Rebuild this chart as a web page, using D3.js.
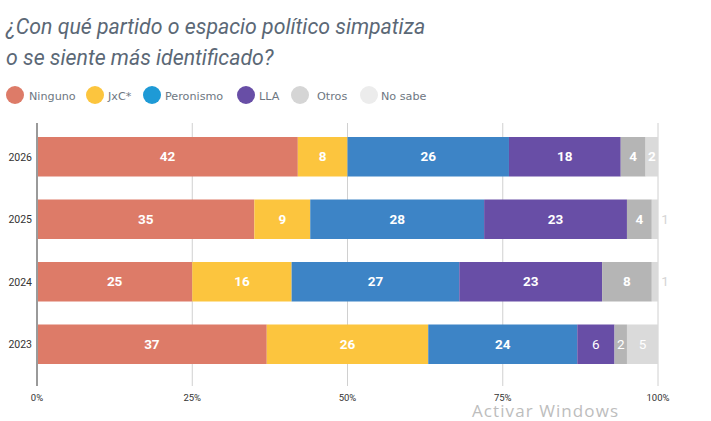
<!DOCTYPE html>
<html><head><meta charset="utf-8">
<script src="https://cdn.jsdelivr.net/npm/d3@7/dist/d3.min.js"></script>
<style>body{margin:0;background:#fff;}svg{display:block;}</style>
</head><body>
<svg id="c" width="711" height="421"></svg>
<script>
const years = ["2026","2025","2024","2023"];
const seriesNames = ["Ninguno","JxC*","Peronismo","LLA","Otros","No sabe"];
const ninguno   = [42,35,25,37];
const jxc       = [8,9,16,26];
const peronismo = [26,28,27,24];
const lla       = [18,23,23,6];
const otros     = [4,4,8,2];
const noSabe    = [2,1,1,5];
const tickLabels = ["0%","25%","50%","75%","100%"];
const colors = ["#DD7B68","#FCC53E","#3D84C6","#684EA6","#B5B5B5","#DADADA"];
const legendColors = ["#DD7B68","#FCC53E","#1E9AD6","#684EA6","#D5D5D5","#ECECEC"];

const seriesVals = [ninguno,jxc,peronismo,lla,otros,noSabe];
const rows = years.map((y,i)=>{const o={year:y};seriesNames.forEach((s,j)=>o[s]=seriesVals[j][i]);return o;});
const stack = d3.stack().keys(seriesNames)(rows);

const svg = d3.select("#c");
const x = d3.scaleLinear().domain([0,100]).range([37,658]);
const y = d3.scaleBand().domain(years).range([126,375]).paddingInner(0.368).paddingOuter(0.176);

// title
const t = svg.append("text").attr("font-family","Roboto").attr("font-style","italic").attr("font-size",21.3).attr("fill","#5B6876");
t.append("tspan").attr("x",6).attr("y",34).text("¿Con qué partido o espacio político simpatiza");
t.append("tspan").attr("x",6).attr("y",65).text("o se siente más identificado?");

// legend
const legX = [15,95,152,246,300,369];
const legTX = [29,108,165,259,317,381];
seriesNames.forEach((s,i)=>{
  svg.append("circle").attr("cx",legX[i]).attr("cy",95).attr("r",9).attr("fill",legendColors[i]);
  svg.append("text").attr("x",legTX[i]).attr("y",99.5).attr("font-family","DejaVu Sans").attr("font-size",11.2).attr("fill","#6E7782").text(s);
});

// grid
const gTop=123, gBot=386;
svg.append("g").selectAll("line").data([25,50,75,100]).join("line")
  .attr("x1",d=>x(d)).attr("x2",d=>x(d)).attr("y1",gTop).attr("y2",gBot)
  .attr("stroke","#D0D0D0").attr("stroke-width",1);

// bars
stack.forEach((layer,j)=>{
  svg.append("g").selectAll("rect").data(layer).join("rect")
    .attr("x",d=>x(d[0])).attr("width",d=>x(d[1])-x(d[0]))
    .attr("y",d=>y(d.data.year)).attr("height",y.bandwidth())
    .attr("fill",colors[j]);
});

// labels
stack.forEach((layer,j)=>{
  layer.forEach(d=>{
    const v = d[1]-d[0];
    const w = x(d[1])-x(d[0]);
    const cy = y(d.data.year)+y.bandwidth()/2+4.5;
    if(w>=10){
      svg.append("text").attr("x",(x(d[0])+x(d[1]))/2).attr("y",cy)
        .attr("text-anchor","middle").attr("font-family","Roboto")
        .attr("font-weight", d.data.year==="2023" && v<10 ? 400 : 700)
        .attr("font-size",13.5).attr("fill","#fff").text(v);
    } else {
      svg.append("text").attr("x",x(d[1])+7).attr("y",cy)
        .attr("text-anchor","middle").attr("font-family","Roboto")
        .attr("font-size",13.5).attr("fill","#D5D5D5").text(v);
    }
  });
});

// axis line
svg.append("line").attr("x1",x(0)).attr("x2",x(0)).attr("y1",gTop).attr("y2",gBot)
  .attr("stroke","#9A9A9A").attr("stroke-width",2);

// year labels
svg.append("g").selectAll("text").data(years).join("text")
  .attr("x",32).attr("y",d=>y(d)+y.bandwidth()/2+4)
  .attr("text-anchor","end").attr("font-family","Roboto").attr("font-size",10.5).attr("fill","#333").text(d=>d);

// x ticks
svg.append("g").selectAll("text").data(tickLabels).join("text")
  .attr("x",(d,i)=>x(i*25)).attr("y",401)
  .attr("text-anchor","middle").attr("font-family","Roboto").attr("font-size",9.5).attr("fill","#333").text(d=>d);

// watermark
svg.append("text").attr("x",472).attr("y",417).attr("font-family","Open Sans").attr("font-size",17).attr("fill","#BDBDBD").attr("textLength",146).text("Activar Windows");
</script>
</body></html>
